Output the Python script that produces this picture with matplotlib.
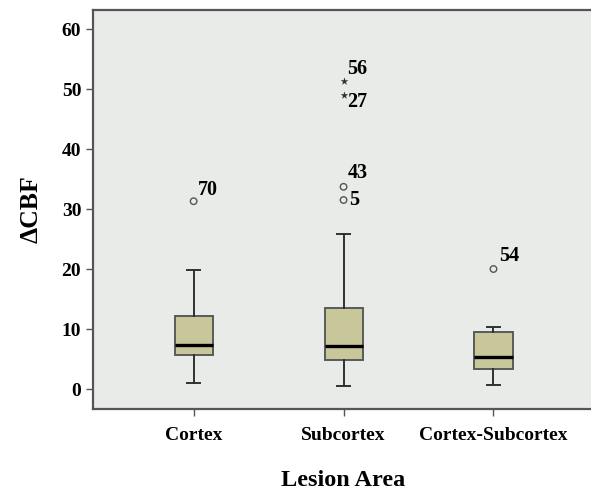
import matplotlib.pyplot as plt

plt.rcParams['font.family'] = ['Liberation Serif', 'DejaVu Serif']
plt.rcParams['font.weight'] = 'bold'

# summary values
areas = ['Cortex', 'Subcortex', 'Cortex-Subcortex']
whislo = [1.0, 0.5, 0.7]
q1 = [5.7, 4.8, 3.3]
med = [7.3, 7.2, 5.3]
q3 = [12.2, 13.5, 9.5]
whishi = [19.8, 25.8, 10.3]

# outliers (group index, value, case label)
out_group = [1, 2, 2, 3]
out_value = [31.3, 33.7, 31.5, 20.0]
out_label = ['70', '43', '5', '54']
out_offset = [(4, 11), (4, 14), (6, 0), (6, 13)]

# extreme values (stars)
ext_group = [2, 2]
ext_value = [51.3, 49.0]
ext_label = ['56', '27']
ext_offset = [(4, 12), (4, -7)]

stats = []
for i in range(len(areas)):
    stats.append({'whislo': whislo[i], 'q1': q1[i], 'med': med[i],
                  'q3': q3[i], 'whishi': whishi[i], 'fliers': []})

fig = plt.figure(figsize=(5.91, 4.92), dpi=100)
ax = fig.add_axes([0.1574, 0.1687, 0.845, 0.811])
ax.set_facecolor('#E9EBE8')

ax.bxp(stats, positions=[1, 2, 3], widths=0.254, patch_artist=True,
       showfliers=False,
       boxprops=dict(facecolor='#C8C799', edgecolor='#5A5A5A', linewidth=1.4),
       medianprops=dict(color='black', linewidth=2.4),
       whiskerprops=dict(color='#303030', linewidth=1.4),
       capprops=dict(color='#303030', linewidth=1.4),
       capwidths=0.087)

ax.scatter(out_group, out_value, s=22, facecolors='none', edgecolors='#555555',
           linewidths=1.0, zorder=3)
ax.scatter(ext_group, ext_value, marker='*', s=34, color='#333333',
           linewidths=0, zorder=3)

for g, v, lab, off in zip(out_group, out_value, out_label, out_offset):
    ax.annotate(lab, (g, v), xytext=off, textcoords='offset pixels',
                ha='left', va='center', fontsize=14.5, fontweight='bold')
for g, v, lab, off in zip(ext_group, ext_value, ext_label, ext_offset):
    ax.annotate(lab, (g, v), xytext=off, textcoords='offset pixels',
                ha='left', va='center', fontsize=14.5, fontweight='bold')

ax.set_xlim(0.329, 3.66)
ax.set_ylim(-3.33, 63.17)
ax.set_yticks([0, 10, 20, 30, 40, 50, 60])
ax.set_xticks([1, 2, 3])
ax.set_xticklabels(areas)
ax.tick_params(axis='both', labelsize=14, length=5, width=1.0, color='#555555')
ax.tick_params(axis='x', pad=8)

for side in ['left', 'top', 'bottom']:
    ax.spines[side].set_color('#555555')
    ax.spines[side].set_linewidth(1.6)
ax.spines['right'].set_visible(False)

ax.set_xlabel('Lesion Area', fontsize=17.5, fontweight='bold', labelpad=19)
ax.set_ylabel('ΔCBF', fontsize=18.5, fontweight='bold', labelpad=14)

fig.savefig('out.png', dpi=100)
